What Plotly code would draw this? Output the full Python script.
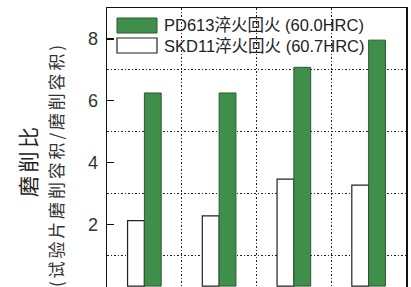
import plotly.graph_objects as go

categories = ["条件1", "条件2", "条件3", "条件4"]
skd11_values = [2.12, 2.27, 3.46, 3.27]
pd613_values = [6.25, 6.25, 7.08, 7.96]
legend_labels = ["PD613淬火回火 (60.0HRC)", "SKD11淬火回火 (60.7HRC)"]
y_title = "磨削比"
y_subtitle = "(试验片磨削容积/磨削容积)"
y_ticks = [0, 2, 4, 6, 8]

W, H = 411, 287
L, R, T, B = 107, 5, 8, 0
GREEN = "#3f8f4a"
DOT = "1.5px,2px"

def px(x):
    return (x - L) / (W - L - R)

def py(y):
    return (H - B - y) / (H - T - B)

fig = go.Figure()
fig.add_trace(go.Bar(x=categories, y=skd11_values, name=legend_labels[1],
                     marker=dict(color="white", line=dict(color="#222", width=1.2)),
                     showlegend=False))
fig.add_trace(go.Bar(x=categories, y=pd613_values, name=legend_labels[0],
                     marker=dict(color=GREEN, line=dict(color="#2a5a30", width=1)),
                     showlegend=False))

# legend background (covers grid)
fig.add_shape(type="rect", xref="paper", yref="paper", x0=0, x1=px(372), y0=py(58), y1=1,
              fillcolor="white", line=dict(width=0), layer="between")
# legend swatches
fig.add_shape(type="rect", xref="paper", yref="paper", x0=px(117), x1=px(157), y0=py(33), y1=py(18),
              fillcolor=GREEN, line=dict(color="#2a5a30", width=1), layer="above")
fig.add_shape(type="rect", xref="paper", yref="paper", x0=px(117), x1=px(157), y0=py(53), y1=py(38),
              fillcolor="white", line=dict(color="#222", width=1.2), layer="above")
for lab, yy in zip(legend_labels, [25.5, 45.5]):
    fig.add_annotation(text=lab, xref="paper", yref="paper", x=px(162), y=py(yy),
                       xanchor="left", yanchor="middle", showarrow=False,
                       font=dict(size=16.5, color="#222", family="Liberation Sans, Noto Sans CJK SC"))

fig.add_annotation(text="\u2006".join(y_title), xref="paper", yref="paper", x=px(27), y=py(162),
                   xanchor="center", yanchor="middle", textangle=-90, showarrow=False,
                   font=dict(size=21, color="#222", family="Noto Sans CJK SC"))
fig.add_annotation(text="\u2006".join(y_subtitle), xref="paper", yref="paper", x=px(55), y=py(166),
                   xanchor="center", yanchor="middle", textangle=-90, showarrow=False,
                   font=dict(size=17, color="#333", family="Noto Sans CJK SC"))

fig.update_layout(
    width=W, height=H, margin=dict(l=L, r=R, t=T, b=B, autoexpand=False),
    plot_bgcolor="white", paper_bgcolor="white",
    barmode="group", bargap=0.55, bargroupgap=0,
    showlegend=False, hovermode=False,
    font=dict(family="Liberation Sans, Arial", color="#333"),
)
fig.update_xaxes(showticklabels=False, ticks="", tickson="boundaries", automargin=False,
                 showgrid=True, gridcolor="#222", griddash=DOT, gridwidth=1,
                 showline=True, linecolor="#111", linewidth=1.5, mirror=True)
fig.update_yaxes(range=[-0.03, 9], tickvals=y_ticks, ticks="inside", ticklen=7,
                 tickcolor="#111", tickwidth=1.2, automargin=False,
                 tickfont=dict(size=18, color="#333"), ticklabelstandoff=4,
                 showgrid=False, zeroline=False,
                 minor=dict(tick0=1, dtick=2, showgrid=True, gridcolor="#222",
                            griddash=DOT, gridwidth=1, ticks=""),
                 showline=True, linecolor="#111", linewidth=1.5, mirror=True)

fig.write_html("out.html", config={"displayModeBar": False, "staticPlot": True},
               post_script="document.body.style.margin='0';document.body.style.padding='0';")
